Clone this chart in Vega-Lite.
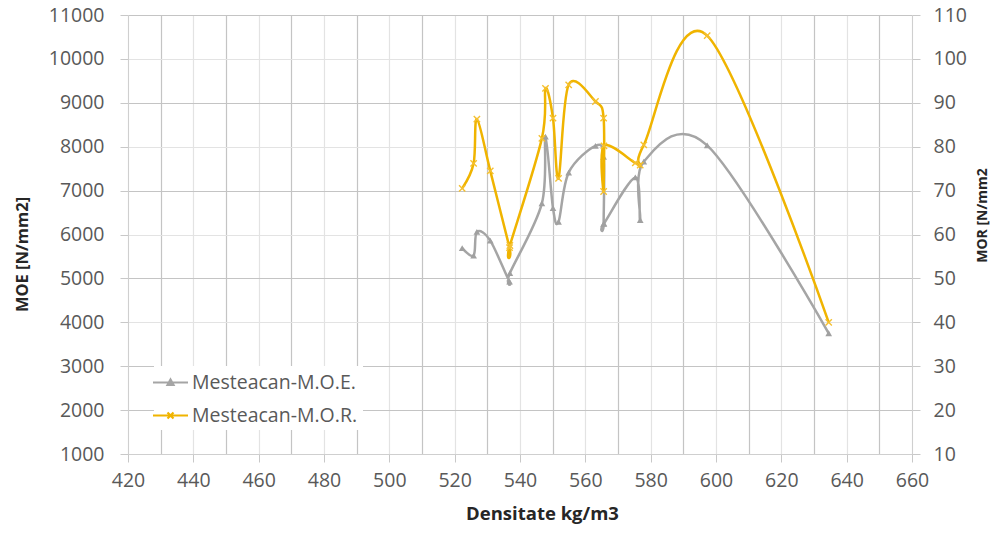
{
  "$schema": "https://vega.github.io/schema/vega-lite/v6.json",
  "width": 784,
  "height": 439,
  "autosize": {"type": "none"},
  "padding": {"left": 128, "top": 15, "right": 90, "bottom": 79},
  "background": "white",
  "config": {
    "view": {"stroke": null},
    "font": "Open Sans",
    "axis": {"labelFont": "Open Sans", "titleFont": "Open Sans"},
    "legend": {"labelFont": "Open Sans"}
  },
  "data": {
    "values": [
      {"n": 1, "densitate": 522.3, "moe": 5690, "mor": 70.5},
      {"n": 2, "densitate": 525.8, "moe": 5520, "mor": 76.2},
      {"n": 3, "densitate": 526.8, "moe": 6060, "mor": 86.3},
      {"n": 4, "densitate": 530.9, "moe": 5860, "mor": 74.5},
      {"n": 5, "densitate": 536.8, "moe": 4925, "mor": 57.0},
      {"n": 6, "densitate": 536.9, "moe": 5120, "mor": 57.5},
      {"n": 7, "densitate": 546.7, "moe": 6710, "mor": 81.9},
      {"n": 8, "densitate": 547.8, "moe": 8230, "mor": 93.3},
      {"n": 9, "densitate": 550.1, "moe": 6600, "mor": 86.5},
      {"n": 10, "densitate": 551.8, "moe": 6290, "mor": 72.8},
      {"n": 11, "densitate": 554.9, "moe": 7410, "mor": 94.1},
      {"n": 12, "densitate": 563.1, "moe": 8020, "mor": 90.3},
      {"n": 13, "densitate": 565.6, "moe": 7770, "mor": 86.5},
      {"n": 14, "densitate": 565.6, "moe": 6240, "mor": 69.8},
      {"n": 15, "densitate": 565.7, "moe": 6250, "mor": 80.2},
      {"n": 16, "densitate": 575.3, "moe": 7300, "mor": 76.3},
      {"n": 17, "densitate": 576.8, "moe": 6330, "mor": 75.8},
      {"n": 18, "densitate": 577.9, "moe": 7660, "mor": 80.4},
      {"n": 19, "densitate": 597.3, "moe": 8030, "mor": 105.3},
      {"n": 20, "densitate": 634.5, "moe": 3750, "mor": 40.0}
    ]
  },
  "encoding": {
    "x": {
      "field": "densitate",
      "type": "quantitative",
      "scale": {"domain": [420, 660], "nice": false, "zero": false},
      "axis": {
        "values": [420, 430, 440, 450, 460, 470, 480, 490, 500, 510, 520, 530, 540, 550, 560, 570, 580, 590, 600, 610, 620, 630, 640, 650, 660],
        "format": "d",
        "labelExpr": "datum.value % 20 === 0 ? datum.label : ''",
        "grid": true,
        "gridColor": {"condition": {"test": "datum.value % 20 !== 0", "value": "#c4c4c4"}, "value": "#e3e3e3"},
        "gridWidth": 1.2,
        "tickSize": 8,
        "tickColor": {"condition": {"test": "datum.value % 20 !== 0", "value": "transparent"}, "value": "#c8c8c8"},
        "domainColor": "#cfcfcf",
        "labelFontSize": 19.5,
        "labelColor": "#595959",
        "labelPadding": 9,
        "labelFlush": false,
        "labelOverlap": false,
        "title": "Densitate kg/m3",
        "titleFontSize": 18.5,
        "titleFontWeight": "bold",
        "titleColor": "#262626",
        "titleAlign": "center",
        "titleBaseline": "top",
        "titleX": 414,
        "titleY": 50
      }
    },
    "order": {"field": "n", "type": "quantitative"}
  },
  "layer": [
    {
      "encoding": {
        "y": {
          "field": "moe",
          "type": "quantitative",
          "scale": {"domain": [1000, 11000], "nice": false, "zero": false},
          "axis": {
            "orient": "left",
            "values": [1000, 2000, 3000, 4000, 5000, 6000, 7000, 8000, 9000, 10000, 11000],
            "format": "d",
            "grid": true,
            "gridColor": {"condition": {"test": "datum.value % 2000 === 1000 || datum.value === 2000", "value": "#c4c4c4"}, "value": "#e3e3e3"},
            "gridWidth": 1.2,
            "tickSize": 8,
            "tickColor": "#c8c8c8",
            "domainColor": "#cfcfcf",
            "labelFontSize": 19.5,
            "labelColor": "#595959",
            "labelPadding": 16,
            "labelFlush": false,
            "labelOverlap": false,
            "title": "MOE [N/mm2]",
            "titleFontSize": 16.5,
            "titleFontWeight": "bold",
            "titleColor": "#262626",
            "titleAngle": -90,
            "titleAlign": "center",
            "titleBaseline": "middle",
            "titleX": -106,
            "titleY": 239
          }
        }
      },
      "layer": [
        {
          "mark": {"type": "line", "interpolate": "cardinal", "tension": 0, "strokeWidth": 2.5},
          "encoding": {
            "color": {
              "datum": "Mesteacan-M.O.E.",
              "type": "nominal",
              "scale": {"domain": ["Mesteacan-M.O.E.", "Mesteacan-M.O.R."], "range": ["#a5a5a5", "#f0b400"]},
              "legend": {
                "orient": "none",
                "legendX": 26,
                "legendY": 351,
                "title": null,
                "fillColor": "white",
                "padding": 5,
                "labelFontSize": 19.5,
                "labelColor": "#595959",
                "labelLimit": 500,
                "labelOffset": 10,
                "symbolSize": 400,
                "rowPadding": 12,
                "encode": {
                  "symbols": {
                    "update": {
                      "shape": {"signal": "datum.value === 'Mesteacan-M.O.E.' ? 'M-1.75,0H1.75M-0.3,0.25L0,-0.3L0.3,0.25Z' : 'M-1.75,0H1.75M-0.3,-0.3L0.3,0.3M-0.3,0.3L0.3,-0.3'"},
                      "fill": {"signal": "datum.value === 'Mesteacan-M.O.E.' ? '#a5a5a5' : '#f0b400'"},
                      "stroke": {"signal": "datum.value === 'Mesteacan-M.O.E.' ? '#a5a5a5' : '#f0b400'"},
                      "strokeWidth": {"value": 2.2},
                      "opacity": {"value": 1}
                    }
                  }
                }
              }
            }
          }
        },
        {
          "mark": {"type": "point", "shape": "triangle-up", "filled": true, "size": 45, "color": "#a0a0a0", "opacity": 1}
        }
      ]
    },
    {
      "encoding": {
        "y": {
          "field": "mor",
          "type": "quantitative",
          "scale": {"domain": [10, 110], "nice": false, "zero": false},
          "axis": {
            "orient": "right",
            "values": [10, 20, 30, 40, 50, 60, 70, 80, 90, 100, 110],
            "format": "d",
            "grid": false,
            "tickSize": 8,
            "tickColor": "#c8c8c8",
            "domainColor": "#cfcfcf",
            "labelFontSize": 19.5,
            "labelColor": "#595959",
            "labelPadding": 13,
            "labelFlush": false,
            "labelOverlap": false,
            "title": "MOR [N/mm2",
            "titleFontSize": 14,
            "titleFontWeight": "bold",
            "titleColor": "#262626",
            "titleAngle": -90,
            "titleAlign": "center",
            "titleBaseline": "middle",
            "titleX": 70,
            "titleY": 200
          }
        }
      },
      "layer": [
        {
          "mark": {"type": "line", "interpolate": "cardinal", "tension": 0, "strokeWidth": 2.5},
          "encoding": {
            "color": {"datum": "Mesteacan-M.O.R.", "type": "nominal"}
          }
        },
        {
          "mark": {"type": "point", "shape": "M-1,-1L1,1M-1,1L1,-1", "filled": false, "size": 40, "strokeWidth": 1.4, "color": "#f5c030", "opacity": 1}
        }
      ]
    }
  ],
  "resolve": {"scale": {"y": "independent"}, "axis": {"y": "independent"}}
}
